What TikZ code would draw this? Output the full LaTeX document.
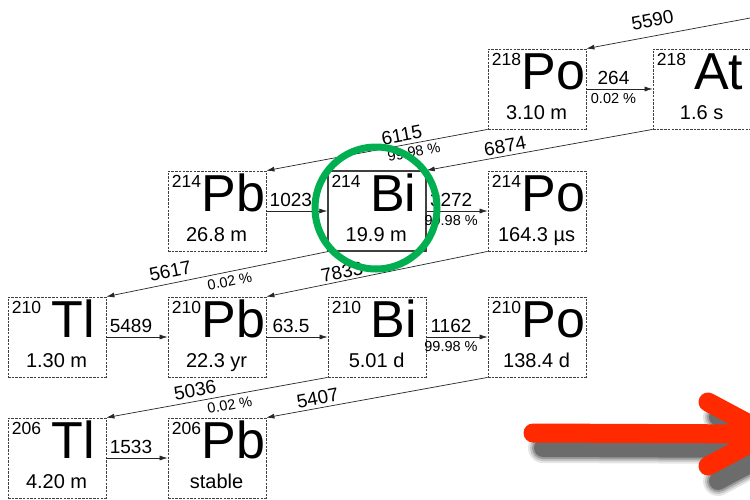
\documentclass[tikz,border=0pt]{standalone}
\usepackage{fontspec}
\setmainfont{Liberation Sans}
\usetikzlibrary{calc,arrows.meta}

\definecolor{markgruen}{RGB}{0,176,80}
\definecolor{pfeilrot}{RGB}{255,42,0}

% Inhalt eines Nuklidkastens: Name, Massenzahl, Symbol, Halbwertszeit
\newcommand{\isotop}[4]{%
  \node (#1_masse) [masse] at ($(#1.north west)+(4,17)$) {#2};
  \node (#1_symbol) [symbol] at ($(#1.north west)+(66,41)$) {#3};
  \node (#1_zeit) [halbwert] at ($(#1.north west)+(49,71)$) {#4};
}

\begin{document}
\begin{tikzpicture}[x=1pt,y=-1pt]
        \tikzstyle{nuklid} = [rectangle, minimum width=98pt, minimum height=80pt, inner sep=0pt, draw=black!75, line width=0.8pt, dash pattern=on 2.5pt off 1.2pt]
        \tikzstyle{nuklid_mark} = [rectangle, minimum width=98pt, minimum height=80pt, inner sep=0pt, draw=black!75, line width=1.4pt]
        \tikzstyle{masse} = [anchor=base west, inner sep=0pt, font=\fontsize{17.5}{17.5}\selectfont]
        \tikzstyle{symbol} = [anchor=base, inner sep=0pt, font=\fontsize{52}{52}\selectfont]
        \tikzstyle{halbwert} = [anchor=base, inner sep=0pt, font=\fontsize{20}{20}\selectfont]
        \tikzstyle{zerfall} = [draw=black!85, line width=0.7pt, -{Latex[length=8pt,width=5pt]}]
        \tikzstyle{energie} = [inner sep=0pt, font=\fontsize{19}{19}\selectfont]
        \tikzstyle{anteil} = [inner sep=0pt, font=\fontsize{14.5}{14.5}\selectfont]
        \useasboundingbox (0,0) rectangle (750,499);
        \clip (0,0) rectangle (750,499);
        \fill[white] (0,0) rectangle (750,499);
        \node (po218) [nuklid] at (537,89) {};
        \node (at218) [nuklid, right of=po218, node distance=165pt] {};
        \node (pb214) [nuklid] at (217,211) {};
        \node (bi214) [nuklid_mark, right of=pb214, node distance=160pt] {};
        \node (po214) [nuklid, right of=bi214, node distance=160pt] {};
        \node (tl210) [nuklid] at (57,337) {};
        \node (pb210) [nuklid, right of=tl210, node distance=160pt] {};
        \node (bi210) [nuklid, right of=pb210, node distance=160pt] {};
        \node (po210) [nuklid, right of=bi210, node distance=160pt] {};
        \node (tl206) [nuklid] at (57,458) {};
        \node (pb206) [nuklid, right of=tl206, node distance=160pt] {};
        \isotop{po218}{218}{Po}{3.10 m}
        \isotop{at218}{218}{At}{1.6 s}
        \isotop{pb214}{214}{Pb}{26.8 m}
        \isotop{bi214}{214}{Bi}{19.9 m}
        \isotop{po214}{214}{Po}{164.3 µs}
        \isotop{tl210}{210}{Tl}{1.30 m}
        \isotop{pb210}{210}{Pb}{22.3 yr}
        \isotop{bi210}{210}{Bi}{5.01 d}
        \isotop{po210}{210}{Po}{138.4 d}
        \isotop{tl206}{206}{Tl}{4.20 m}
        \isotop{pb206}{206}{Pb}{stable}
        \coordinate (rn222) at (809,7);
        % Beta-Zerfaelle
        \draw[zerfall] (po218.east) -- node (e264) [energie, above=4pt, xshift=-6pt]{264} node (p264) [anteil, below=4pt, xshift=-6pt]{0.02 \%} (at218.west);
        \draw[zerfall] (pb214.east) -- node (e1023) [energie, above=4pt, xshift=-6pt]{1023} (bi214.west);
        \draw[zerfall] (bi214.east) -- node (e3272) [energie, above=4pt, xshift=-6pt]{3272} node (p3272) [anteil, below=4pt, xshift=-6pt]{99.98 \%} (po214.west);
        \draw[zerfall] (tl210.east) -- node (e5489) [energie, above=4pt, xshift=-6pt]{5489} (pb210.west);
        \draw[zerfall] (pb210.east) -- node (e635) [energie, above=4pt, xshift=-6pt]{63.5} (bi210.west);
        \draw[zerfall] (bi210.east) -- node (e1162) [energie, above=4pt, xshift=-6pt]{1162} node (p1162) [anteil, below=4pt, xshift=-6pt]{99.98 \%} (po210.west);
        \draw[zerfall] (tl206.east) -- node (e1533) [energie, above=4pt, xshift=-6pt]{1533} (pb206.west);
        % Alpha-Zerfaelle
        \draw[zerfall] (rn222) -- node (e5590) [energie, pos=0.69, sloped, above=9pt]{5590} (po218.north east);
        \draw[zerfall] (po218.south west) -- node (e6115) [energie, pos=0.38, sloped, above=3pt]{6115} node (p6115) [anteil, pos=0.34, sloped, below=3pt]{99.98 \%} (pb214.north east);
        \draw[zerfall] (at218.south west) -- node (e6874) [energie, pos=0.645, sloped, above=3pt]{6874} (bi214.north east);
        \draw[zerfall] (bi214.south west) -- node (e5617) [energie, pos=0.70, sloped, above=5pt]{5617} node (p5617) [anteil, pos=0.45, sloped, below=4pt]{0.02 \%} (tl210.north east);
        \draw[zerfall] (po214.south west) -- node (e7833) [energie, pos=0.65, sloped, above=2pt]{7833} (pb210.north east);
        \draw[zerfall] (bi210.south west) -- node (e5036) [energie, pos=0.59, sloped, above=4pt]{5036} node (p5036) [anteil, pos=0.45, sloped, below=4pt]{0.02 \%} (tl206.north east);
        \draw[zerfall] (po210.south west) -- node (e5407) [energie, pos=0.76, sloped, above=3pt]{5407} (pb206.north east);
        % Markierung
        \draw[markgruen, line width=7pt] (376,208) circle (61pt);
        % roter Pfeil mit Schatten
        \foreach \w/\o in {30/0.10, 26/0.14, 22/0.2, 18/0.3} {
          \draw[black, opacity=\o, line width=\w pt, line cap=round, line join=round] (543,448) -- (778,449) (718,417) -- (778,449) -- (718,481);
        }
        \draw[pfeilrot, line width=19pt, line cap=round, line join=round] (533,433) -- (768,434) (708,402) -- (768,434) -- (708,466);
\end{tikzpicture}
\end{document}
